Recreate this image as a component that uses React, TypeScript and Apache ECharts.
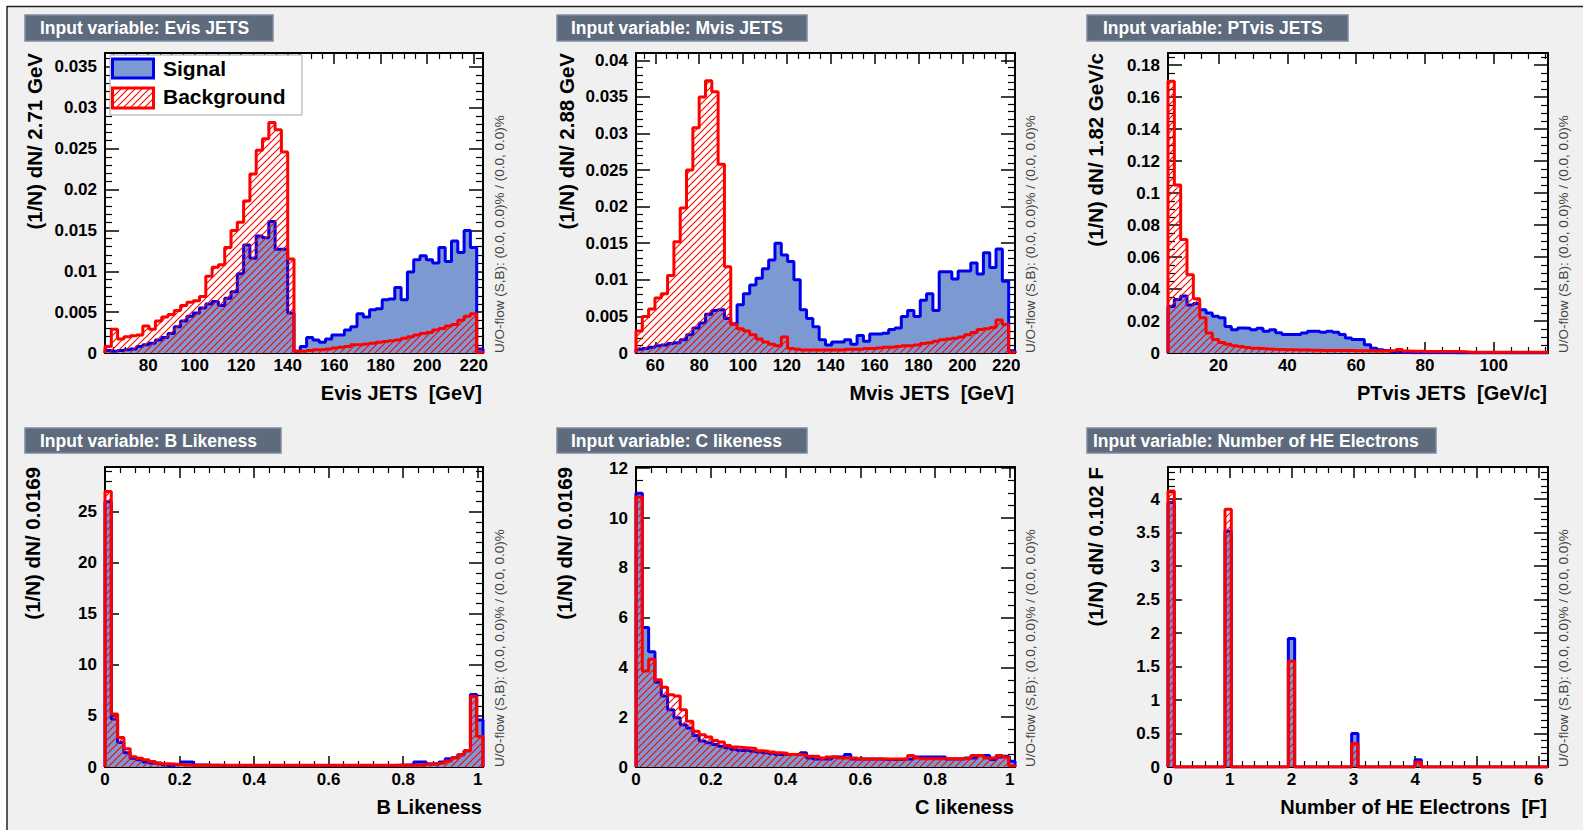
import React, { useEffect, useRef } from 'react';
import * as echarts from 'echarts';

// ---------------- data (60 bins per histogram) ----------------
const evisSignal = [
  0.0003, 0.0002, 0.0003, 0.0004, 0.0005, 0.0008, 0.0010, 0.0012, 0.0016, 0.0019,
  0.0024, 0.0032, 0.0039, 0.0045, 0.0049, 0.0055, 0.0060, 0.0063, 0.0058, 0.0067,
  0.0075, 0.0097, 0.0132, 0.0116, 0.0143, 0.0141, 0.0161, 0.0127, 0.0127, 0.0049,
  0.0002, 0.0008, 0.0019, 0.0016, 0.0013, 0.0017, 0.0022, 0.0022, 0.0028, 0.0032,
  0.0048, 0.0044, 0.0053, 0.0054, 0.0065, 0.0066, 0.0080, 0.0065, 0.0099, 0.0114,
  0.0119, 0.0114, 0.0110, 0.0129, 0.0112, 0.0137, 0.0123, 0.0150, 0.0129, 0.0005,
];
const evisBackground = [
  0.0008, 0.0029, 0.0017, 0.0020, 0.0021, 0.0022, 0.0033, 0.0029, 0.0039, 0.0044,
  0.0047, 0.0052, 0.0058, 0.0062, 0.0064, 0.0069, 0.0094, 0.0105, 0.0108, 0.0129,
  0.0150, 0.0160, 0.0186, 0.0219, 0.0248, 0.0262, 0.0282, 0.0273, 0.0246, 0.0115,
  0.0002, 0.0002, 0.0003, 0.0004, 0.0004, 0.0005, 0.0006, 0.0007, 0.0008, 0.0010,
  0.0010, 0.0011, 0.0012, 0.0013, 0.0014, 0.0015, 0.0016, 0.0018, 0.0020, 0.0022,
  0.0024, 0.0025, 0.0028, 0.0030, 0.0033, 0.0035, 0.0040, 0.0045, 0.0048, 0.0001,
];
const mvisSignal = [
  0.0005, 0.0006, 0.0008, 0.0010, 0.0011, 0.0013, 0.0014, 0.0018, 0.0025, 0.0034,
  0.0041, 0.0053, 0.0058, 0.0059, 0.0047, 0.0040, 0.0066, 0.0081, 0.0093, 0.0102,
  0.0115, 0.0127, 0.0150, 0.0134, 0.0125, 0.0100, 0.0059, 0.0047, 0.0036, 0.0018,
  0.0011, 0.0015, 0.0015, 0.0018, 0.0012, 0.0024, 0.0016, 0.0026, 0.0026, 0.0027,
  0.0032, 0.0034, 0.0050, 0.0058, 0.0050, 0.0072, 0.0081, 0.0058, 0.0111, 0.0111,
  0.0101, 0.0112, 0.0112, 0.0123, 0.0108, 0.0137, 0.0117, 0.0142, 0.0098, 0.0003,
];
const mvisBackground = [
  0.0030, 0.0050, 0.0060, 0.0075, 0.0081, 0.0106, 0.0152, 0.0198, 0.0250, 0.0308,
  0.0350, 0.0372, 0.0357, 0.0258, 0.0118, 0.0039, 0.0033, 0.0030, 0.0025, 0.0019,
  0.0015, 0.0012, 0.0010, 0.0022, 0.0006, 0.0005, 0.0004, 0.0004, 0.0004, 0.0004,
  0.0004, 0.0004, 0.0004, 0.0005, 0.0005, 0.0005, 0.0006, 0.0006, 0.0007, 0.0008,
  0.0008, 0.0009, 0.0010, 0.0010, 0.0011, 0.0013, 0.0014, 0.0016, 0.0018, 0.0019,
  0.0020, 0.0022, 0.0025, 0.0028, 0.0032, 0.0033, 0.0035, 0.0045, 0.0039, 0.0001,
];
const ptSignal = [
  0.0290, 0.0335, 0.0356, 0.0300, 0.0310, 0.0270, 0.0250, 0.0230, 0.0220, 0.0165,
  0.0146, 0.0157, 0.0155, 0.0146, 0.0155, 0.0136, 0.0146, 0.0126, 0.0115, 0.0115,
  0.0115, 0.0125, 0.0136, 0.0136, 0.0130, 0.0136, 0.0130, 0.0115, 0.0094, 0.0084,
  0.0084, 0.0052, 0.0030, 0.0021, 0.0015, 0.0008, 0.0004, 0.0003, 0.0002, 0.0002,
  0.0001, 0.0001, 0.0001, 0.0001, 0.0001, 0.0000, 0.0000, 0.0000, 0.0000, 0.0000,
  0.0000, 0.0000, 0.0000, 0.0000, 0.0000, 0.0000, 0.0000, 0.0000, 0.0000, 0.0000,
];
const ptBackground = [
  0.1700, 0.1050, 0.0710, 0.0490, 0.0340, 0.0220, 0.0125, 0.0085, 0.0065, 0.0055,
  0.0045, 0.0040, 0.0035, 0.0030, 0.0028, 0.0025, 0.0023, 0.0022, 0.0020, 0.0020,
  0.0018, 0.0018, 0.0017, 0.0017, 0.0016, 0.0016, 0.0015, 0.0015, 0.0015, 0.0014,
  0.0014, 0.0014, 0.0013, 0.0013, 0.0014, 0.0015, 0.0022, 0.0012, 0.0011, 0.0011,
  0.0010, 0.0010, 0.0010, 0.0009, 0.0009, 0.0009, 0.0008, 0.0005, 0.0005, 0.0005,
  0.0004, 0.0004, 0.0004, 0.0004, 0.0004, 0.0004, 0.0004, 0.0004, 0.0004, 0.0004,
];
const bSignal = [
  26.0, 4.7, 2.4, 1.4, 0.85, 0.7, 0.5, 0.4, 0.35, 0.2,
  0.1, 0.25, 0.5, 0.5, 0.2, 0.2, 0.18, 0.18, 0.15, 0.15,
  0.15, 0.15, 0.15, 0.15, 0.15, 0.15, 0.15, 0.15, 0.15, 0.15,
  0.15, 0.15, 0.15, 0.15, 0.15, 0.15, 0.15, 0.15, 0.15, 0.15,
  0.15, 0.15, 0.15, 0.15, 0.15, 0.15, 0.18, 0.2, 0.2, 0.5,
  0.5, 0.3, 0.3, 0.5, 0.8, 0.9, 1.2, 1.6, 7.1, 4.6,
];
const bBackground = [
  27.0, 5.2, 2.9, 1.8, 1.0, 0.85, 0.7, 0.55, 0.4, 0.33,
  0.3, 0.25, 0.2, 0.18, 0.16, 0.16, 0.16, 0.16, 0.16, 0.16,
  0.16, 0.16, 0.16, 0.16, 0.16, 0.16, 0.16, 0.16, 0.16, 0.16,
  0.16, 0.16, 0.16, 0.16, 0.16, 0.16, 0.16, 0.16, 0.16, 0.16,
  0.16, 0.16, 0.16, 0.16, 0.16, 0.16, 0.16, 0.16, 0.16, 0.16,
  0.16, 0.3, 0.35, 0.4, 0.6, 0.9, 1.2, 1.6, 6.9, 3.0,
];
const cSignal = [
  11.0, 5.6, 4.63, 3.4, 2.85, 2.3, 1.98, 1.7, 1.57, 1.27,
  1.04, 0.97, 0.9, 0.83, 0.77, 0.7, 0.66, 0.67, 0.63, 0.6,
  0.57, 0.54, 0.5, 0.5, 0.5, 0.5, 0.57, 0.36, 0.32, 0.32,
  0.32, 0.4, 0.4, 0.5, 0.32, 0.32, 0.32, 0.32, 0.32, 0.3,
  0.3, 0.3, 0.32, 0.32, 0.4, 0.4, 0.4, 0.4, 0.4, 0.32,
  0.32, 0.32, 0.36, 0.36, 0.46, 0.46, 0.3, 0.4, 0.43, 0.23,
];
const cBackground = [
  10.85, 3.86, 4.33, 3.5, 3.2, 2.9, 2.85, 2.3, 1.84, 1.44,
  1.3, 1.2, 1.06, 1.0, 0.86, 0.8, 0.78, 0.76, 0.74, 0.65,
  0.63, 0.6, 0.57, 0.55, 0.5, 0.5, 0.48, 0.43, 0.43, 0.36,
  0.4, 0.4, 0.36, 0.36, 0.36, 0.32, 0.32, 0.32, 0.32, 0.32,
  0.32, 0.32, 0.32, 0.46, 0.36, 0.33, 0.33, 0.33, 0.33, 0.33,
  0.33, 0.33, 0.33, 0.46, 0.46, 0.36, 0.36, 0.46, 0.40, 0.05,
];
const heSignal = [
  3.95, 0, 0, 0, 0, 0, 0, 0, 0, 3.52,
  0, 0, 0, 0, 0, 0, 0, 0, 0, 1.92,
  0, 0, 0, 0, 0, 0, 0, 0, 0, 0.50,
  0, 0, 0, 0, 0, 0, 0, 0, 0, 0.11,
  0, 0, 0, 0, 0, 0, 0, 0, 0, 0,
  0, 0, 0, 0, 0, 0, 0, 0, 0, 0,
];
const heBackground = [
  4.12, 0, 0, 0, 0, 0, 0, 0, 0, 3.85,
  0, 0, 0, 0, 0, 0, 0, 0, 0, 1.58,
  0, 0, 0, 0, 0, 0, 0, 0, 0, 0.35,
  0, 0, 0, 0, 0, 0, 0, 0, 0, 0.07,
  0, 0, 0, 0, 0, 0, 0, 0, 0, 0,
  0, 0, 0, 0, 0, 0, 0, 0, 0, 0,
];

const signals = [evisSignal, mvisSignal, ptSignal, bSignal, cSignal, heSignal];
const backgrounds = [evisBackground, mvisBackground, ptBackground, bBackground, cBackground, heBackground];

const panelTitles = [
  'Input variable: Evis JETS',
  'Input variable: Mvis JETS',
  'Input variable: PTvis JETS',
  'Input variable: B Likeness',
  'Input variable: C likeness',
  'Input variable: Number of HE Electrons',
];
const xTitles = [
  'Evis JETS  [GeV]',
  'Mvis JETS  [GeV]',
  'PTvis JETS  [GeV/c]',
  'B Likeness',
  'C likeness',
  'Number of HE Electrons  [F]',
];
const yTitles = [
  '(1/N) dN/ 2.71 GeV',
  '(1/N) dN/ 2.88 GeV',
  '(1/N) dN/ 1.82 GeV/c',
  '(1/N) dN/ 0.0169',
  '(1/N) dN/ 0.0169',
  '(1/N) dN/ 0.102 F',
];
const legendNames = ['Signal', 'Background'];
const uoText = 'U/O-flow (S,B): (0.0, 0.0)% / (0.0, 0.0)%';

// axis ranges and tick steps
const xRanges = [[61.4, 224.0], [51.2, 224.0], [5.3, 115.8], [0, 1.014], [0, 1.014], [0, 6.15]];
const yMaxes = [0.0367, 0.041, 0.1876, 29.4, 12.05, 4.48];
const xSteps = [20, 20, 20, 0.2, 0.2, 1];
const ySteps = [0.005, 0.005, 0.02, 5, 2, 0.5];
const xMinors = [4, 4, 4, 5, 5, 5];
const yMinors = [5, 5, 4, 5, 4, 5];

// ---------------- layout ----------------
const frames = [
  [105, 53, 378, 300], [636, 53, 379, 300], [1168, 53, 380, 300],
  [105, 467, 378, 300], [636, 467, 379, 300], [1168, 467, 380, 300],
];
const titleBoxes = [
  [25, 15, 248, 26, 40], [557, 15, 250, 26, 571], [1087, 15, 261, 26, 1103],
  [25, 428, 256, 25, 40], [557, 428, 250, 25, 571], [1087, 428, 349, 25, 1093],
];
const yTitleX = [34, 566, 1095, 32, 564, 1095];
const uoX = [499, 1030, 1563, 499, 1030, 1563];

const FONT = "'Liberation Sans', Arial, Helvetica, sans-serif";
const SIG_LINE = '#0000ee';
const SIG_FILL = '#7d99d1';
const BKG_LINE = '#ff0000';

function histPoints(values: number[], xMin: number, xMax: number) {
  const n = values.length;
  const w = (xMax - xMin) / n;
  const pts: number[][] = [[xMin, 0]];
  values.forEach((v, i) => pts.push([xMin + i * w, v]));
  pts.push([xMax, values[n - 1]]);
  pts.push([xMax, 0]);
  return pts;
}

const fmt = (step: number) => (v: number) => {
  const r = v / step;
  if (Math.abs(r - Math.round(r)) > 1e-6) return '';
  return String(parseFloat(v.toPrecision(6)));
};

function buildOption() {
  const hatchSvg =
    "<svg xmlns='http://www.w3.org/2000/svg' width='7' height='7'>" +
    "<path d='M-8,8 L1,-1 M-1,8 L8,-1 M6,8 L15,-1' stroke='#ff0000' stroke-width='1.1' fill='none'/></svg>";
  const hatch: any = {
    image: 'data:image/svg+xml;charset=utf-8,' + encodeURIComponent(hatchSvg),
    repeat: 'repeat',
    imageWidth: 7,
    imageHeight: 7,
  };

  const grid: any[] = [];
  const xAxis: any[] = [];
  const yAxis: any[] = [];
  const series: any[] = [];
  const graphic: any[] = [];

  // outer white margin and dark border (top/left)
  graphic.push({ type: 'rect', shape: { x: 0, y: 0, width: 1583, height: 6 }, style: { fill: '#ffffff' }, z: 1 });
  graphic.push({ type: 'rect', shape: { x: 0, y: 0, width: 7, height: 830 }, style: { fill: '#ffffff' }, z: 1 });
  graphic.push({ type: 'line', shape: { x1: 7, y1: 6.5, x2: 1583, y2: 6.5 }, style: { stroke: '#222', lineWidth: 1.5 }, z: 1 });
  graphic.push({ type: 'line', shape: { x1: 7, y1: 6, x2: 7, y2: 830 }, style: { stroke: '#222', lineWidth: 1.5 }, z: 1 });

  frames.forEach((f, i) => {
    const [left, top, width, height] = f;
    grid.push({ left, top, width, height, show: true, backgroundColor: '#fffffd', borderWidth: 0, containLabel: false });
    const [x0, x1] = xRanges[i];
    const baseX: any = {
      type: 'value', gridIndex: i, min: x0, max: x1,
      minInterval: xSteps[i], maxInterval: xSteps[i], splitNumber: 8,
      splitLine: { show: false },
      axisLine: { show: true, onZero: false, lineStyle: { color: '#000', width: 2 } },
      axisTick: { show: true, inside: true, length: 11, lineStyle: { color: '#000', width: 1.5 } },
      minorTick: { show: true, splitNumber: xMinors[i], length: 6, lineStyle: { color: '#000', width: 1.2 } },
    };
    xAxis.push({
      ...baseX, position: 'bottom',
      axisLabel: {
        show: true, margin: 4, color: '#000', fontSize: 17, fontWeight: 'bold', fontFamily: FONT,
        showMinLabel: x0 === 0, showMaxLabel: false, formatter: fmt(xSteps[i]),
      },
    });
    xAxis.push({ ...baseX, position: 'top', axisLabel: { show: false } });
    const baseY: any = {
      type: 'value', gridIndex: i, min: 0, max: yMaxes[i],
      minInterval: ySteps[i], maxInterval: ySteps[i], splitNumber: 8,
      splitLine: { show: false },
      axisLine: { show: true, onZero: false, lineStyle: { color: '#000', width: 2 } },
      axisTick: { show: true, inside: true, length: 14, lineStyle: { color: '#000', width: 1.5 } },
      minorTick: { show: true, splitNumber: yMinors[i], length: 7, lineStyle: { color: '#000', width: 1.2 } },
    };
    yAxis.push({
      ...baseY, position: 'left',
      axisLabel: {
        show: true, margin: 8, color: '#000', fontSize: 17, fontWeight: 'bold', fontFamily: FONT,
        showMinLabel: true, showMaxLabel: false, formatter: fmt(ySteps[i]),
      },
    });
    yAxis.push({ ...baseY, position: 'right', axisLabel: { show: false } });

    series.push({
      type: 'line', name: legendNames[0], xAxisIndex: 2 * i, yAxisIndex: 2 * i,
      data: histPoints(signals[i], x0, x1), step: 'end', symbol: 'none', showSymbol: false,
      lineStyle: { color: SIG_LINE, width: 3 }, areaStyle: { color: SIG_FILL, opacity: 1 },
      itemStyle: { color: SIG_LINE }, silent: true, z: 2,
    });
    series.push({
      type: 'line', name: legendNames[1], xAxisIndex: 2 * i, yAxisIndex: 2 * i,
      data: histPoints(backgrounds[i], x0, x1), step: 'end', symbol: 'none', showSymbol: false,
      lineStyle: { color: BKG_LINE, width: 3 }, areaStyle: { color: hatch, opacity: 1 },
      itemStyle: { color: BKG_LINE }, silent: true, z: 3,
    });

    // title box
    const [bx, by, bw, bh, tx] = titleBoxes[i];
    graphic.push({
      type: 'rect', shape: { x: bx, y: by, width: bw, height: bh },
      style: { fill: '#5d6b7d', stroke: '#7d8b9d', lineWidth: 1.5 }, z: 20,
    });
    graphic.push({
      type: 'text', x: tx, y: by + bh / 2, z: 21,
      style: {
        text: panelTitles[i], fill: '#ffffff', fontSize: 17.5, fontWeight: 'bold', fontFamily: FONT,
        align: 'left', verticalAlign: 'middle', textAlign: 'left', textVerticalAlign: 'middle',
      },
    });
    // x title
    graphic.push({
      type: 'text', x: left + width - 1, y: top + height + 40, z: 21,
      style: {
        text: xTitles[i], fill: '#000', fontSize: 20, fontWeight: 'bold', fontFamily: FONT,
        align: 'right', verticalAlign: 'middle', textAlign: 'right', textVerticalAlign: 'middle',
      },
    });
    // y title
    graphic.push({
      type: 'text', x: yTitleX[i], y: top, rotation: Math.PI / 2, z: 21,
      style: {
        text: yTitles[i], fill: '#000', fontSize: 20.5, fontWeight: 'bold', fontFamily: FONT,
        align: 'right', verticalAlign: 'middle', textAlign: 'right', textVerticalAlign: 'middle',
      },
    });
    // under/overflow note
    graphic.push({
      type: 'text', x: uoX[i], y: top + height, rotation: Math.PI / 2, z: 21,
      style: {
        text: uoText, fill: '#444', fontSize: 13.5, fontFamily: FONT,
        align: 'left', verticalAlign: 'middle', textAlign: 'left', textVerticalAlign: 'middle',
      },
    });
  });

  // legend in the first panel
  graphic.push({ type: 'rect', shape: { x: 110, y: 55, width: 192, height: 60 }, style: { fill: '#fffffd', stroke: '#9aa6b8', lineWidth: 1 }, z: 30 });
  graphic.push({ type: 'rect', shape: { x: 112.5, y: 59, width: 41, height: 19 }, style: { fill: SIG_FILL, stroke: SIG_LINE, lineWidth: 3 }, z: 31 });
  graphic.push({ type: 'rect', shape: { x: 112.5, y: 88, width: 41, height: 20 }, style: { fill: hatch, stroke: BKG_LINE, lineWidth: 3 }, z: 31 });
  graphic.push({
    type: 'text', x: 163, y: 68.5, z: 31,
    style: { text: legendNames[0], fill: '#000', fontSize: 21, fontWeight: 'bold', fontFamily: FONT, align: 'left', verticalAlign: 'middle', textAlign: 'left', textVerticalAlign: 'middle' },
  });
  graphic.push({
    type: 'text', x: 163, y: 96.5, z: 31,
    style: { text: legendNames[1], fill: '#000', fontSize: 21, fontWeight: 'bold', fontFamily: FONT, align: 'left', verticalAlign: 'middle', textAlign: 'left', textVerticalAlign: 'middle' },
  });

  return {
    animation: false,
    backgroundColor: '#f0f0f0',
    textStyle: { fontFamily: FONT },
    grid,
    xAxis,
    yAxis,
    series,
    graphic: { elements: graphic },
  };
}

export default function App() {
  const ref = useRef<HTMLDivElement>(null);
  useEffect(() => {
    document.body.style.margin = '0';
    const chart = echarts.init(ref.current as HTMLDivElement, null, { renderer: 'svg' });
    chart.setOption(buildOption() as any);
    return () => {
      chart.dispose();
    };
  }, []);
  return <div ref={ref} style={{ width: 1583, height: 830 }} />;
}
